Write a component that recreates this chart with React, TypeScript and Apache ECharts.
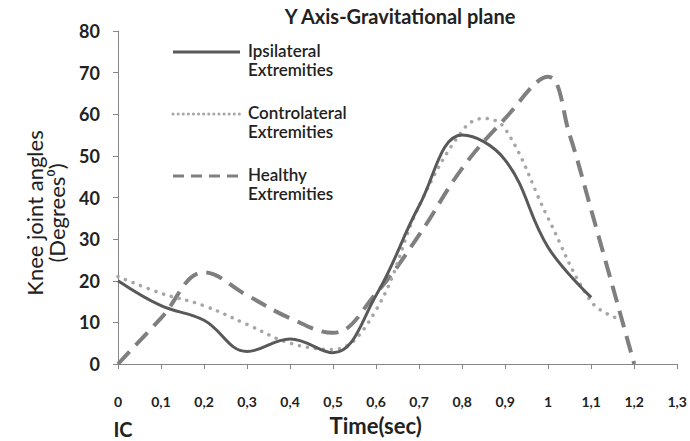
import React, { useEffect, useRef } from "react";
import * as echarts from "echarts";

const ipsiT = [0, 0.1, 0.2, 0.3, 0.4, 0.5, 0.6, 0.7, 0.8, 0.9, 1.0, 1.1];
const ipsiV = [20, 14, 10.5, 3, 6, 2.7, 16.5, 38, 55, 49, 28, 16];

const contT = [0, 0.1, 0.2, 0.3, 0.4, 0.5, 0.6, 0.7, 0.8, 0.85, 0.9, 1.0, 1.1, 1.16];
const contV = [21, 17, 14, 9.5, 5, 3.5, 13, 38, 56, 59, 56.5, 35, 15, 11];

const healT = [0, 0.1, 0.2, 0.3, 0.4, 0.5, 0.6, 0.7, 0.8, 0.9, 1.0, 1.05, 1.1, 1.2];
const healV = [0, 11, 22, 16.5, 11, 7.5, 17, 31, 47, 59, 69, 55, 37, 0];

const seriesNames = ["Ipsilateral\nExtremities", "Controlateral\nExtremities", "Healthy\nExtremities"];
const yTicks = [0, 10, 20, 30, 40, 50, 60, 70, 80];

const zip = (t: number[], v: number[]) => t.map((x, i) => [x, v[i]]);

const FONT = "Lato";

export default function App() {
  const ref = useRef<HTMLDivElement>(null);
  useEffect(() => {
    if (!ref.current) return;
    const chart = echarts.init(ref.current, undefined, { renderer: "svg" });
    const legendY = [52, 114, 176];
    const legendStyles = [
      { stroke: "#595959", lineWidth: 3, lineDash: null as any },
      { stroke: "#a6a6a6", lineWidth: 3, lineDash: [0.1, 5], lineCap: "round" },
      { stroke: "#7f7f7f", lineWidth: 3, lineDash: [11, 7] },
    ];
    const graphic: any[] = [];
    seriesNames.forEach((n, i) => {
      graphic.push({
        type: "line",
        shape: { x1: 173, y1: legendY[i], x2: 240, y2: legendY[i] },
        style: { ...legendStyles[i] },
      });
      graphic.push({
        type: "text",
        x: 248,
        y: legendY[i] - 11,
        style: {
          text: n,
          fill: "#222",
          font: `600 17px ${FONT}`,
          lineHeight: 19,
          textVerticalAlign: "top",
        },
      });
    });
    graphic.push({
      type: "text",
      x: 123,
      y: 429,
      style: { text: "IC", fill: "#222", font: `bold 20px ${FONT}`, textAlign: "center", textVerticalAlign: "middle" },
    });
    graphic.push({
      type: "text",
      x: 45,
      y: 213,
      rotation: Math.PI / 2,
      style: {
        text: "Knee joint angles\n(Degrees⁰)",
        fill: "#222",
        font: `normal 22px ${FONT}`,
        lineHeight: 22,
        textAlign: "center",
        textVerticalAlign: "middle",
      },
    });
    chart.setOption({
      animation: false,
      title: {
        text: "Y Axis-Gravitational plane",
        left: 395,
        top: 1,
        textAlign: "center",
        textStyle: { fontFamily: FONT, fontWeight: "bold", fontSize: 20, color: "#222" },
      },
      grid: { left: 118, right: 12, top: 31, bottom: 77 },
      xAxis: {
        type: "value",
        min: 0,
        max: 1.3,
        interval: 0.1,
        name: "Time(sec)",
        nameLocation: "middle",
        nameGap: 50,
        nameTextStyle: { fontFamily: FONT, fontWeight: "bold", fontSize: 22, color: "#222", padding: [0, 44, 0, 0] },
        axisLine: { show: true, lineStyle: { color: "#868686", width: 1 } },
        axisTick: { show: true, length: 5, lineStyle: { color: "#868686" } },
        splitLine: { show: false },
        axisLabel: {
          margin: 30,
          fontFamily: FONT,
          fontWeight: "bold",
          fontSize: 14,
          color: "#222",
          formatter: (v: number) => String(+v.toFixed(1)).replace(".", ","),
        },
      },
      yAxis: {
        type: "value",
        min: yTicks[0],
        max: yTicks[yTicks.length - 1],
        interval: 10,
        axisLine: { show: true, lineStyle: { color: "#868686", width: 1 } },
        axisTick: { show: true, length: 5, lineStyle: { color: "#868686" } },
        splitLine: { show: false },
        axisLabel: { margin: 18, fontFamily: FONT, fontWeight: "bold", fontSize: 18, color: "#222" },
      },
      graphic,
      series: [
        {
          name: seriesNames[0],
          type: "line",
          data: zip(ipsiT, ipsiV),
          smooth: 0.4,
          symbol: "none",
          lineStyle: { color: "#595959", width: 3 },
          z: 4,
        },
        {
          name: seriesNames[1],
          type: "line",
          data: zip(contT, contV),
          smooth: 0.4,
          symbol: "none",
          lineStyle: { color: "#a6a6a6", width: 3.5, type: [0.1, 8], cap: "round" },
          z: 3,
        },
        {
          name: seriesNames[2],
          type: "line",
          data: zip(healT, healV),
          smooth: 0.4,
          symbol: "none",
          lineStyle: { color: "#7f7f7f", width: 4, type: [17, 9] },
          z: 2,
        },
      ],
    });
    return () => chart.dispose();
  }, []);
  return <div ref={ref} style={{ position: "absolute", left: 0, top: 0, width: 690, height: 441, background: "#fff" }} />;
}
